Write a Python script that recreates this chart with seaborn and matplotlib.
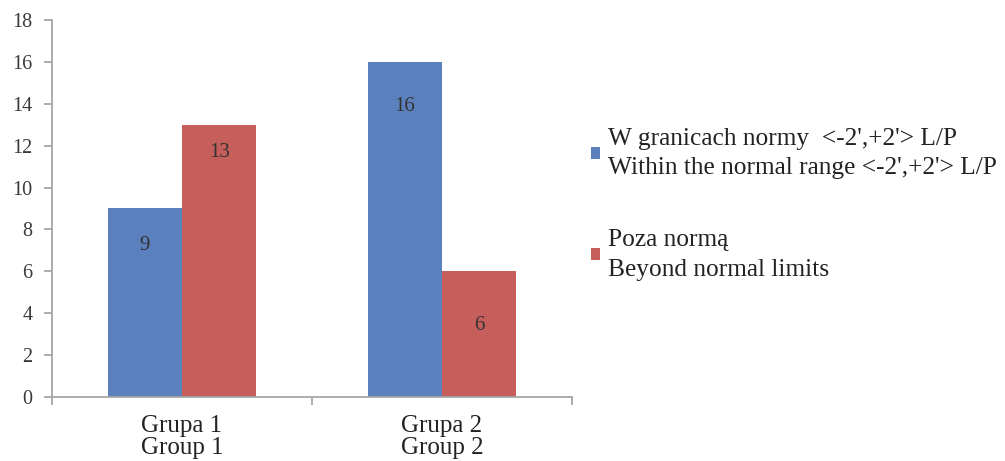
import matplotlib
matplotlib.use("Agg")
import matplotlib.pyplot as plt
import seaborn as sns
import pandas as pd

# Data
groups = ["Grupa 1\nGroup 1", "Grupa 2\nGroup 2"]
series_names = [
    "W granicach normy  <-2',+2'> L/P\nWithin the normal range <-2',+2'> L/P",
    "Poza normą\nBeyond normal limits",
]
within_values = [9, 16]
beyond_values = [13, 6]
y_ticks = [0, 2, 4, 6, 8, 10, 12, 14, 16, 18]

colors = ["#5B80BE", "#C65E5B"]
# distance (points) from each bar's top down to the centre of its value label
label_drop = [[27, 32], [20, 39]]

sns.set_theme(style="white")
plt.rcParams["font.family"] = ["Liberation Serif", "DejaVu Serif"]

df = pd.DataFrame({
    "group": groups * 2,
    "series": [series_names[0]] * len(groups) + [series_names[1]] * len(groups),
    "value": within_values + beyond_values,
})

fig = plt.figure(figsize=(10.05, 4.61), dpi=100)
ax = fig.add_axes([52 / 1005, 64 / 461, 520 / 1005, 377 / 461])

sns.barplot(data=df, x="group", y="value", hue="series", order=groups,
            hue_order=series_names, palette=colors, width=0.573,
            saturation=1, ax=ax, legend=True, linewidth=0)

ax.set_xlim(-0.5, len(groups) - 0.5)
ax.set_ylim(0, 18)
ax.set_yticks(y_ticks)
ax.set_xlabel("")
ax.set_ylabel("")

# axes frame: only left and bottom, light grey
for side in ["top", "right"]:
    ax.spines[side].set_visible(False)
for side in ["left", "bottom"]:
    ax.spines[side].set_color("#A6A6A6")
    ax.spines[side].set_linewidth(1.3)

ax.tick_params(axis="y", which="major", direction="out", length=6, width=1.3,
               color="#A6A6A6", pad=8, labelsize=14.5, labelcolor="#3a3a3a", left=True)
ax.tick_params(axis="x", which="major", length=0, pad=13, labelsize=18,
               labelcolor="#222222")
ax.set_xticks(range(len(groups)))
ax.set_xticklabels(groups)
plt.setp(ax.get_xticklabels(), linespacing=1.02)
# category boundary ticks
ax.set_xticks([i - 0.5 for i in range(len(groups) + 1)], minor=True)
ax.tick_params(axis="x", which="minor", direction="out", length=6, width=1.3,
               color="#A6A6A6", bottom=True)

# value labels inside the bars
for ci, container in enumerate(ax.containers):
    for bi, bar in enumerate(container):
        h = bar.get_height()
        ax.annotate(f"{h:g}", (bar.get_x() + bar.get_width() / 2, h),
                    xytext=(0, -label_drop[ci][bi]), textcoords="offset points",
                    ha="center", va="center", fontsize=15, color="#333333")

# legend to the right of the plot
handles, labels = ax.get_legend_handles_labels()
ax.get_legend().remove()
leg = fig.legend(handles, labels, loc="center left", bbox_to_anchor=(591 / 1005, 0.557),
                 frameon=False, fontsize=18.3, handlelength=0.36, handleheight=0.36,
                 handletextpad=0.32, labelspacing=1.95, borderpad=0, borderaxespad=0,
                 labelcolor="#222222")
plt.setp(leg.get_texts(), linespacing=1.45)

fig.savefig("out.png", dpi=100)
